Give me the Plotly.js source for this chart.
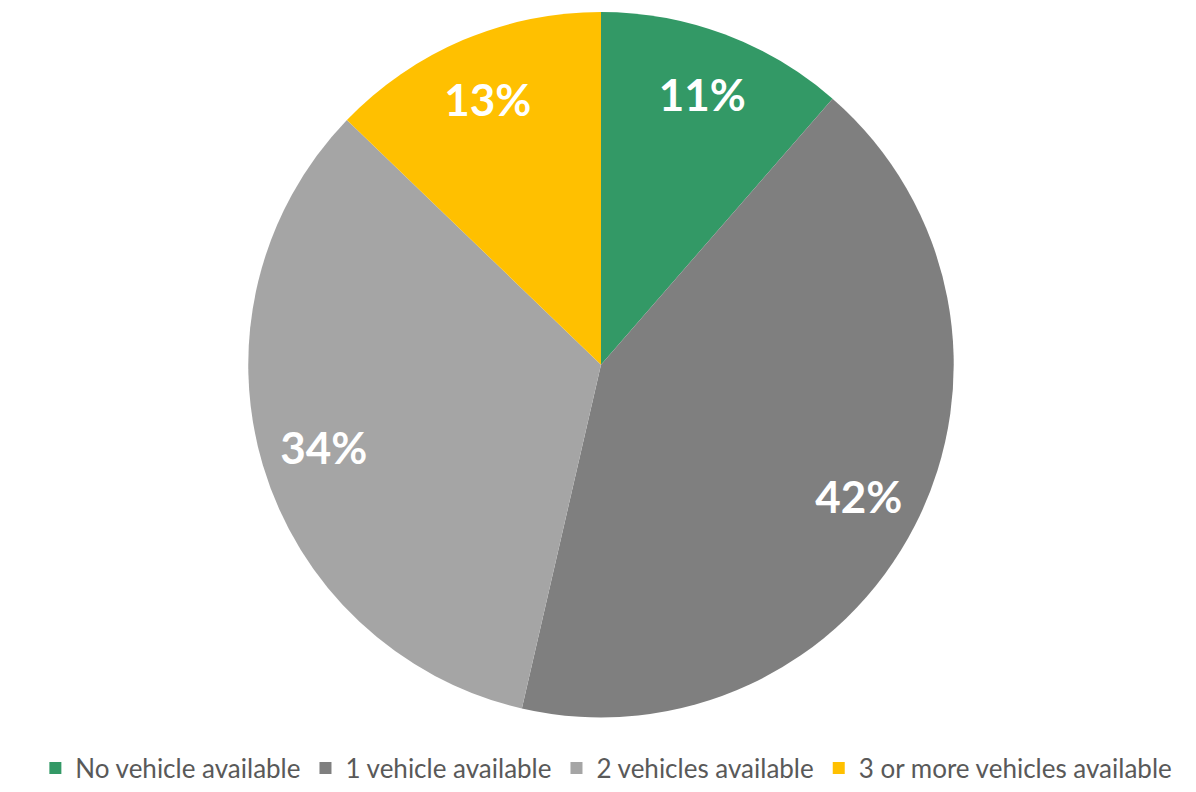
<!DOCTYPE html>
<html><head><meta charset="utf-8">
<script src="https://cdn.plot.ly/plotly-3.0.1.min.js"></script>
<style>html,body{margin:0;padding:0;background:#fff}#chart{width:1196px;height:792px}</style>
</head><body><div id="chart"></div>
<script>
const categories = ["No vehicle available", "1 vehicle available", "2 vehicles available", "3 or more vehicles available"];
const shares = [11.4, 42.2, 33.6, 12.8];
const colors = ["#339966", "#7f7f7f", "#a5a5a5", "#ffc000"];

const pieDomain = {x: [0.2057, 0.7993], y: [0.0884, 0.9848]};

const slices = {
  type: "pie",
  labels: categories,
  values: shares,
  sort: false,
  direction: "clockwise",
  rotation: 0,
  marker: {colors: colors, line: {width: 0}},
  textinfo: "none",
  domain: pieDomain,
  hoverinfo: "label+percent"
};

// transparent ring overlay used only to place the percentage labels near the rim
const labelRing = {
  type: "pie",
  labels: categories,
  values: shares,
  sort: false,
  direction: "clockwise",
  rotation: 0,
  hole: 0.64,
  marker: {colors: categories.map(() => "rgba(0,0,0,0)"), line: {width: 0}},
  texttemplate: "%{percent:.0%}",
  textposition: "inside",
  insidetextorientation: "horizontal",
  textfont: {family: "Lato, 'Open Sans', sans-serif", size: 44, color: "#ffffff", weight: "bold"},
  domain: pieDomain,
  showlegend: false,
  hoverinfo: "skip"
};

const layout = {
  width: 1196, height: 792,
  margin: {l: 0, r: 0, t: 0, b: 0},
  paper_bgcolor: "#ffffff",
  showlegend: true,
  legend: {
    orientation: "h", x: 0.507, xanchor: "center", y: 0.024, yanchor: "middle",
    font: {family: "Lato, 'Open Sans', sans-serif", size: 26, color: "#595959"},
    itemwidth: 30, tracegroupgap: 0, traceorder: "normal"
  }
};
Plotly.newPlot("chart", [slices, labelRing], layout, {displayModeBar: false, staticPlot: true});
</script></body></html>
